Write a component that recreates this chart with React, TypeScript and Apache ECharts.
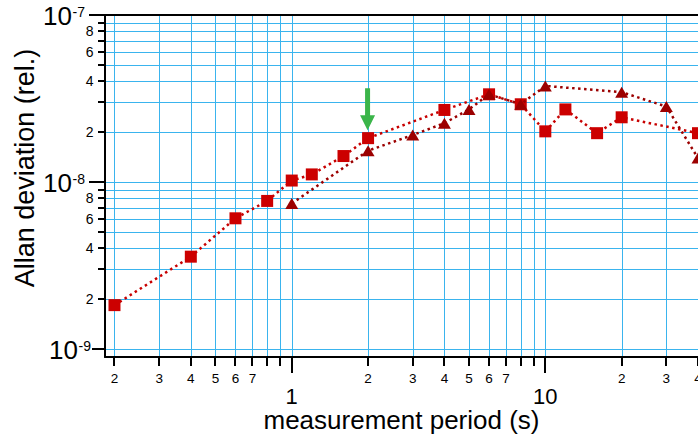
import React, { useEffect, useRef } from 'react';
import * as echarts from 'echarts';

// Squares series
const periodsA = [0.2, 0.4, 0.6, 0.8, 1.0, 1.2, 1.6, 2, 4, 6, 8, 10, 12, 16, 20, 40];
const deviationA = [1.83e-9, 3.57e-9, 6.06e-9, 7.7e-9, 1.02e-8, 1.11e-8, 1.43e-8, 1.83e-8, 2.7e-8, 3.35e-8, 2.92e-8, 2.01e-8, 2.72e-8, 1.96e-8, 2.44e-8, 1.96e-8];
// Triangles series
const periodsB = [1, 2, 3, 4, 5, 6, 8, 10, 20, 30, 40];
const deviationB = [7.43e-9, 1.54e-8, 1.91e-8, 2.25e-8, 2.72e-8, 3.35e-8, 2.92e-8, 3.76e-8, 3.45e-8, 2.83e-8, 1.39e-8];
// Arrow marks this period of the square series
const arrowPeriod = 2;

const xTicks = [0.2, 0.3, 0.4, 0.5, 0.6, 0.7, 0.8, 0.9, 1, 2, 3, 4, 5, 6, 7, 8, 9, 10, 20, 30, 40];
const xTickLabels = ['2', '3', '4', '5', '6', '7', '', '', '1', '2', '3', '4', '5', '6', '7', '', '', '10', '2', '3', '4'];
const yTicks = [1e-9, 2e-9, 3e-9, 4e-9, 5e-9, 6e-9, 7e-9, 8e-9, 9e-9, 1e-8, 2e-8, 3e-8, 4e-8, 5e-8, 6e-8, 7e-8, 8e-8, 9e-8, 1e-7];
const yTickLabels = ['-9', '2', '', '4', '', '6', '', '8', '', '-8', '2', '', '4', '', '6', '', '8', '', '-7'];

const X_MIN = 0.1835;
const X_MAX = 40;
const Y_MIN = 8.95e-10;
const Y_MAX = 1e-7;

const FONT = '"Liberation Sans", Arial, Helvetica, sans-serif';
const GRID = '#3ab4ee';

const isMajor = (v: number) => {
  const l = Math.log10(v);
  return Math.abs(l - Math.round(l)) < 1e-9;
};

const txt = (x: number, y: number, text: string, size: number, align: string, valign: string) => ({
  type: 'text',
  x,
  y,
  style: {
    text,
    fill: '#000',
    fontSize: size,
    fontFamily: FONT,
    align,
    textAlign: align,
    verticalAlign: valign,
    textVerticalAlign: valign,
  },
});

export default function App() {
  const ref = useRef<HTMLDivElement>(null);
  useEffect(() => {
    const chart = echarts.init(ref.current!, null, { renderer: 'svg' });
    const hiddenAxis = {
      axisTick: { show: false },
      axisLabel: { show: false },
      splitLine: { show: false },
      minorTick: { show: false },
      minorSplitLine: { show: false },
    };
    const option: any = {
      animation: false,
      backgroundColor: '#fff',
      grid: { left: 105, right: 0, top: 15, bottom: 79, containLabel: false },
      xAxis: [
        {
          type: 'log', logBase: 10, min: X_MIN, max: X_MAX, z: 5,
          axisLine: { show: true, onZero: false, lineStyle: { color: '#000', width: 2 } },
          ...hiddenAxis,
        },
        {
          type: 'log', logBase: 10, min: X_MIN, max: X_MAX, position: 'top', z: 5,
          axisLine: { show: true, onZero: false, lineStyle: { color: '#000', width: 2 } },
          ...hiddenAxis,
        },
      ],
      yAxis: {
        type: 'log', logBase: 10, min: Y_MIN, max: Y_MAX, z: 5,
        axisLine: { show: true, onZero: false, lineStyle: { color: '#000', width: 2 } },
        ...hiddenAxis,
      },
      graphic: [
        {
          type: 'text', x: 24.5, y: 168, rotation: Math.PI / 2,
          style: { text: 'Allan deviation (rel.)', fill: '#000', fontSize: 27, fontFamily: FONT, align: 'center', textAlign: 'center', verticalAlign: 'middle', textVerticalAlign: 'middle' },
        },
        {
          type: 'text', x: 401.5, y: 419.5,
          style: { text: 'measurement period (s)', fill: '#000', fontSize: 26, fontFamily: FONT, align: 'center', textAlign: 'center', verticalAlign: 'middle', textVerticalAlign: 'middle' },
        },
      ],
      series: [
        {
          type: 'custom',
          z: 1,
          silent: true,
          data: xTicks.map((v) => [v, Y_MIN]),
          renderItem: (params: any, api: any) => {
            const i = params.dataIndex;
            const v = api.value(0);
            const top = api.coord([v, Y_MAX]);
            const bot = api.coord([v, Y_MIN]);
            const major = isMajor(v);
            const gx = Math.round(top[0]) + 0.5;
            const children: any[] = [
              { type: 'line', shape: { x1: gx, y1: top[1], x2: gx, y2: bot[1] - 1 }, style: { stroke: GRID, lineWidth: 1 } },
              { type: 'line', shape: { x1: Math.round(top[0]), y1: bot[1], x2: Math.round(top[0]), y2: bot[1] + (major ? 16 : 9) }, style: { stroke: '#000', lineWidth: 2 } },
            ];
            const label = xTickLabels[i];
            if (label) {
              children.push(txt(top[0], major ? bot[1] + 39 : bot[1] + 21, label, major ? 22 : 13.5, 'center', 'middle'));
            }
            return { type: 'group', children };
          },
        },
        {
          type: 'custom',
          z: 1,
          silent: true,
          data: yTicks.map((v) => [X_MIN, v]),
          renderItem: (params: any, api: any) => {
            const i = params.dataIndex;
            const v = api.value(1);
            const left = api.coord([X_MIN, v]);
            const right = api.coord([X_MAX, v]);
            const major = isMajor(v);
            const gy = Math.round(left[1]) + 0.5;
            const first = i === 0;
            const len = major ? (first ? 13 : 16) : 7;
            const children: any[] = [
              { type: 'line', shape: { x1: left[0] + 1, y1: gy, x2: right[0], y2: gy }, style: { stroke: GRID, lineWidth: 1 } },
              { type: 'line', shape: { x1: left[0] - len, y1: Math.round(left[1]), x2: left[0], y2: Math.round(left[1]) }, style: { stroke: '#000', lineWidth: 2 } },
            ];
            const label = yTickLabels[i];
            if (label) {
              if (major) {
                const off = first ? 6 : 0;
                children.push(txt(left[0] - 33 + off, left[1] + 1, '10', 26, 'right', 'middle'));
                children.push(txt(left[0] - 32.5 + off, left[1] - 3, label, 14, 'left', 'middle'));
              } else {
                children.push(txt(left[0] - 11.5, left[1], label, 14, 'right', 'middle'));
              }
            }
            return { type: 'group', children };
          },
        },
        {
          type: 'line',
          z: 3,
          data: periodsA.map((p, i) => [p, deviationA[i]]),
          symbol: 'rect',
          symbolSize: 12,
          itemStyle: { color: '#cc0000' },
          lineStyle: { color: '#c80000', width: 2.5, type: [2.5, 3.5] },
        },
        {
          type: 'line',
          z: 4,
          data: periodsB.map((p, i) => [p, deviationB[i]]),
          symbol: 'triangle',
          symbolSize: [13, 11],
          itemStyle: { color: '#9c0000' },
          lineStyle: { color: '#9c0000', width: 2.5, type: [2.5, 3.5] },
        },
        {
          type: 'custom',
          z: 5,
          silent: true,
          data: [[arrowPeriod, deviationA[periodsA.indexOf(arrowPeriod)]]],
          renderItem: (params: any, api: any) => {
            const p = api.coord([api.value(0), api.value(1)]);
            const cx = p[0] - 0.5;
            const tip = p[1] - 8;
            return {
              type: 'polygon',
              shape: {
                points: [
                  [cx - 2.5, tip - 42], [cx + 2.5, tip - 42], [cx + 2.5, tip - 15], [cx + 7.5, tip - 15],
                  [cx, tip], [cx - 7.5, tip - 15], [cx - 2.5, tip - 15],
                ],
              },
              style: { fill: '#3bb54a' },
            };
          },
        },
      ],
    };
    chart.setOption(option);
    return () => chart.dispose();
  }, []);
  return <div ref={ref} style={{ position: 'absolute', left: 0, top: 0, width: 698, height: 436 }} />;
}
